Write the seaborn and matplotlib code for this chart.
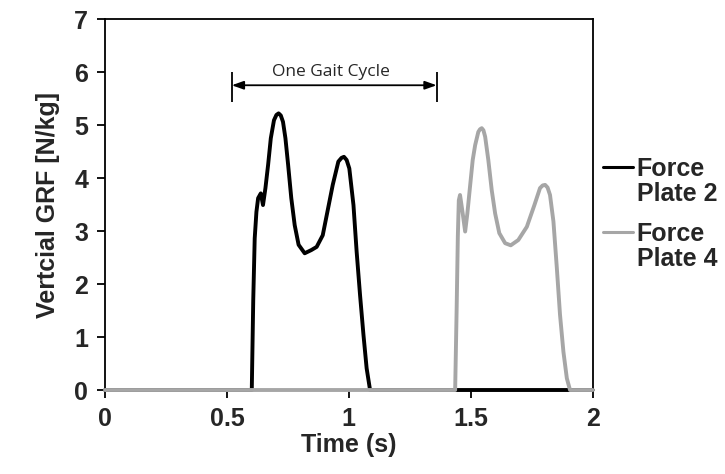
import matplotlib
matplotlib.use("Agg")
import matplotlib.pyplot as plt
from matplotlib.legend_handler import HandlerLine2D
import numpy as np
import pandas as pd
import seaborn as sns

# --- dane ---
time_fp2 = [0.0, 0.602, 0.608, 0.614, 0.621, 0.628, 0.639, 0.648, 0.658, 0.669, 0.680,
            0.693, 0.703, 0.712, 0.721, 0.730, 0.740, 0.751, 0.764, 0.778, 0.794, 0.819, 0.846,
            0.868, 0.893, 0.912, 0.934, 0.957, 0.970, 0.980, 0.991, 1.002, 1.019, 1.032, 1.046,
            1.060, 1.073, 1.087, 2.0]
grf_fp2 = [0.0, 0.0, 1.70, 2.86, 3.36, 3.62, 3.71, 3.49, 3.81, 4.25, 4.75,
           5.09, 5.19, 5.22, 5.18, 5.06, 4.75, 4.25, 3.62, 3.11, 2.74, 2.58, 2.64,
           2.70, 2.92, 3.36, 3.87, 4.31, 4.38, 4.40, 4.34, 4.18, 3.49, 2.61, 1.79,
           1.04, 0.41, 0.0, 0.0]

time_fp4 = [0.0, 1.436, 1.442, 1.447, 1.451, 1.456, 1.467, 1.477, 1.486, 1.497, 1.508,
            1.518, 1.531, 1.538, 1.545, 1.552, 1.559, 1.572, 1.586, 1.600, 1.617, 1.641, 1.664,
            1.695, 1.730, 1.761, 1.784, 1.795, 1.805, 1.815, 1.825, 1.839, 1.853, 1.866, 1.880,
            1.894, 1.907, 2.0]
grf_fp4 = [0.0, 0.0, 1.50, 2.90, 3.58, 3.68, 3.33, 2.99, 3.33, 3.84, 4.34,
           4.62, 4.87, 4.92, 4.94, 4.90, 4.78, 4.34, 3.77, 3.33, 2.96, 2.77, 2.73,
           2.83, 3.08, 3.49, 3.81, 3.86, 3.87, 3.82, 3.68, 3.18, 2.30, 1.42, 0.72,
           0.22, 0.0, 0.0]

series_labels = ["Force\nPlate 2", "Force\nPlate 4"]
series_colors = ["black", "#a6a6a6"]

x_ticks = [0, 0.5, 1, 1.5, 2]
x_tick_labels = ["0", "0.5", "1", "1.5", "2"]
y_ticks = [0, 1, 2, 3, 4, 5, 6, 7]

gait_start, gait_end, gait_y = 0.520, 1.360, 5.75
gait_label = "One Gait Cycle"

FS = 18

# --- styl ---
sns.set_style("ticks")
plt.rcParams['font.family'] = ['Liberation Sans', 'DejaVu Sans']

fig = plt.figure(figsize=(7.25, 4.74), dpi=100)
ax = fig.add_axes([0.1448, 0.1772, 0.6727, 0.7827])

df2 = pd.DataFrame({"t": time_fp2, "grf": grf_fp2})
df4 = pd.DataFrame({"t": time_fp4, "grf": grf_fp4})

sns.lineplot(data=df2, x="t", y="grf", ax=ax, color=series_colors[0], lw=2.8,
             label=series_labels[0], sort=False, zorder=3, clip_on=False)
sns.lineplot(data=df4, x="t", y="grf", ax=ax, color=series_colors[1], lw=2.8,
             label=series_labels[1], sort=False, zorder=4, clip_on=False)

ax.set_xlim(0, 2)
ax.set_ylim(0, 7)
ax.set_xticks(x_ticks)
ax.set_xticklabels(x_tick_labels)
ax.set_yticks(y_ticks)
ax.tick_params(axis='both', direction='out', length=6, width=1.3, labelsize=FS,
               pad=6, color='black')
for lab in ax.get_xticklabels() + ax.get_yticklabels():
    lab.set_fontweight('bold')

for side in ['top', 'right', 'left', 'bottom']:
    ax.spines[side].set_visible(True)
    ax.spines[side].set_linewidth(1.3)
    ax.spines[side].set_color('black')

ax.set_xlabel("Time (s)", fontsize=FS, fontweight='bold', labelpad=2)
ax.set_ylabel("Vertcial GRF [N/kg]", fontsize=FS, fontweight='bold', labelpad=10)

# strzałka cyklu chodu
ax.annotate("", xy=(gait_start, gait_y), xytext=(gait_end, gait_y),
            arrowprops=dict(arrowstyle='<|-|>,head_length=0.7,head_width=0.25',
                            color='black', lw=1.3, shrinkA=0, shrinkB=0))
ax.vlines([gait_start, gait_end], gait_y - 0.31, gait_y + 0.25, color='black', lw=1.3)
ax.text((gait_start + gait_end) / 2 - 0.015, gait_y + 0.17, gait_label,
        ha='center', va='baseline', fontsize=12.5, family=['Open Sans', 'DejaVu Sans'])


# kreska legendy na wysokości pierwszej linii tekstu
class TopLineHandler(HandlerLine2D):
    def create_artists(self, legend, orig_handle, xdescent, ydescent, width,
                       height, fontsize, trans):
        arts = super().create_artists(legend, orig_handle, xdescent, ydescent,
                                      width, height, fontsize, trans)
        for a in arts:
            a.set_ydata(np.asarray(a.get_ydata()) + 0.62 * fontsize)
        return arts


handles, labels = ax.get_legend_handles_labels()
leg = ax.legend(handles, labels, loc='center left', bbox_to_anchor=(1.0, 0.475),
                borderaxespad=0, frameon=False, handlelength=1.2, handletextpad=0.16,
                labelspacing=0.62, prop={'size': FS, 'weight': 'bold'},
                handler_map={h: TopLineHandler() for h in handles})
for t in leg.get_texts():
    t.set_linespacing(1.08)
for line in leg.get_lines():
    line.set_linewidth(2.2)

fig.savefig("out.png", dpi=100)
